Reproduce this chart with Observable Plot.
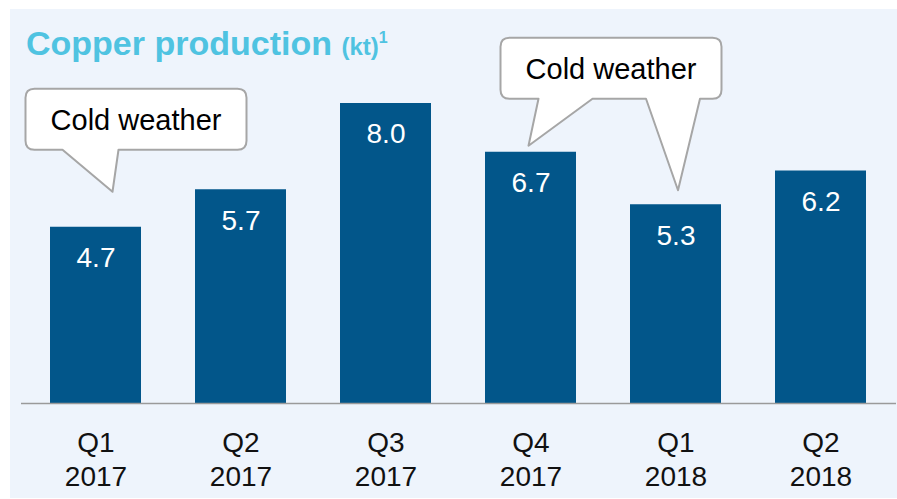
<!DOCTYPE html>
<html>
<head>
<meta charset="utf-8">
<script src="https://cdn.jsdelivr.net/npm/d3@7"></script>
<script src="https://cdn.jsdelivr.net/npm/@observablehq/plot@0.6"></script>
<style>
  html, body { margin: 0; padding: 0; background: #ffffff; overflow: hidden; }
  #chart svg { display: block; }
</style>
</head>
<body>
<div id="chart"></div>
<script>
// ---- Data ----
const quarters = ["Q1", "Q2", "Q3", "Q4", "Q1", "Q2"];
const years = ["2017", "2017", "2017", "2017", "2018", "2018"];
const production = [4.7, 5.7, 8.0, 6.7, 5.3, 6.2];
const titleMain = "Copper production";
const titleUnit = "(kt)";
const titleNote = "1";
const calloutTexts = ["Cold weather", "Cold weather"];
const calloutTargets = [["Q1\n2017"], ["Q4\n2017", "Q1\n2018"]];

// ---- Build table ----
const labels = quarters.map((q, i) => `${q}\n${years[i]}`);
const data = labels.map((label, i) => ({label, value: production[i]}));

// ---- Styles / layout ----
const W = 897, H = 499;
const barColor = "#02568A";
const titleColor = "#4FC3E1";
const panelColor = "#EEF4FC";
const bubbleStroke = "#A6A6A6";
const font = "'Liberation Sans', Arial, Helvetica, sans-serif";

// callout geometry, in pixels relative to target bars
const calloutLayout = [
  {boxLeft: -70, boxWidth: 221, boxHeight: 61, boxGap: 42,
   pointers: [{tipDx: 17, tipGap: 35, baseL: -50, baseR: 6}]},
  {boxLeft: -30, boxWidth: 221, boxHeight: 61, boxGap: 47,
   pointers: [{tipDx: -2, tipGap: 6, baseL: 10, baseR: 64},
              {tipDx: 2.5, tipGap: 14, baseL: -32, baseR: 22}]}
];

const chart = Plot.plot({
  width: W,
  height: H,
  marginLeft: 21,
  marginRight: 1,
  marginTop: 103,
  marginBottom: 96,
  style: {background: "transparent", fontFamily: font, color: "#111", overflow: "visible"},
  x: {domain: labels, paddingInner: 0.37, paddingOuter: 0.185, axis: null},
  y: {domain: [0, 8], axis: null},
  marks: [
    Plot.barY(data, {x: "label", y: "value", fill: barColor}),
    Plot.ruleY([0], {stroke: "#9A9A9A", strokeWidth: 1.5}),
    Plot.text(data, {x: "label", y: "value", text: d => d.value.toFixed(1),
      fill: "white", fontSize: 28, dy: 31}),
    Plot.axisX({tickSize: 0, tickPadding: 25, fontSize: 28, lineHeight: 1.2,
      fill: "#111", label: null})
  ]
});

document.getElementById("chart").appendChild(chart);

const svg = d3.select(chart);
const sx = chart.scale("x");
const sy = chart.scale("y");
const bw = sx.bandwidth;
const cx = lab => sx.apply(lab) + bw / 2;
const val = lab => data.find(d => d.label === lab).value;

// background panel
svg.insert("rect", ":first-child")
  .attr("x", 10).attr("y", 9).attr("width", W).attr("height", H - 10)
  .attr("fill", panelColor);

// title
const t = svg.append("text")
  .attr("x", 26).attr("y", 55)
  .attr("text-anchor", "start")
  .attr("fill", titleColor)
  .attr("font-family", font)
  .attr("font-weight", "bold");
t.append("tspan").attr("font-size", 34).text(titleMain + " ");
t.append("tspan").attr("font-size", 24).text(titleUnit);
t.append("tspan").attr("font-size", 16).attr("dy", -12).text(titleNote);

// callouts
calloutTexts.forEach((txt, k) => {
  const lay = calloutLayout[k];
  const targets = calloutTargets[k];
  const tips = targets.map((lab, j) => {
    const p = lay.pointers[j];
    const tx = cx(lab) + p.tipDx;
    const ty = sy.apply(val(lab)) - p.tipGap;
    return {tx, ty, a: tx + p.baseL, b: tx + p.baseR};
  });
  const L = cx(targets[0]) + lay.boxLeft;
  const R = L + lay.boxWidth;
  const B = tips[0].ty - lay.boxGap;
  const T = B - lay.boxHeight;
  const r = 9;
  let d = `M${L + r},${T} H${R - r} Q${R},${T} ${R},${T + r} V${B - r} Q${R},${B} ${R - r},${B}`;
  const sorted = tips.slice().sort((p, q) => q.a - p.a);
  sorted.forEach(p => { d += ` H${p.b} L${p.tx},${p.ty} L${p.a},${B}`; });
  d += ` H${L + r} Q${L},${B} ${L},${B - r} V${T + r} Q${L},${T} ${L + r},${T} Z`;
  svg.append("path").attr("d", d)
    .attr("fill", "white").attr("stroke", bubbleStroke).attr("stroke-width", 2)
    .attr("stroke-linejoin", "round");
  svg.append("text")
    .attr("x", (L + R) / 2).attr("y", (T + B) / 2).attr("dy", "0.36em")
    .attr("text-anchor", "middle")
    .attr("font-family", font).attr("font-size", 29).attr("fill", "#000")
    .text(txt);
});
</script>
</body>
</html>
